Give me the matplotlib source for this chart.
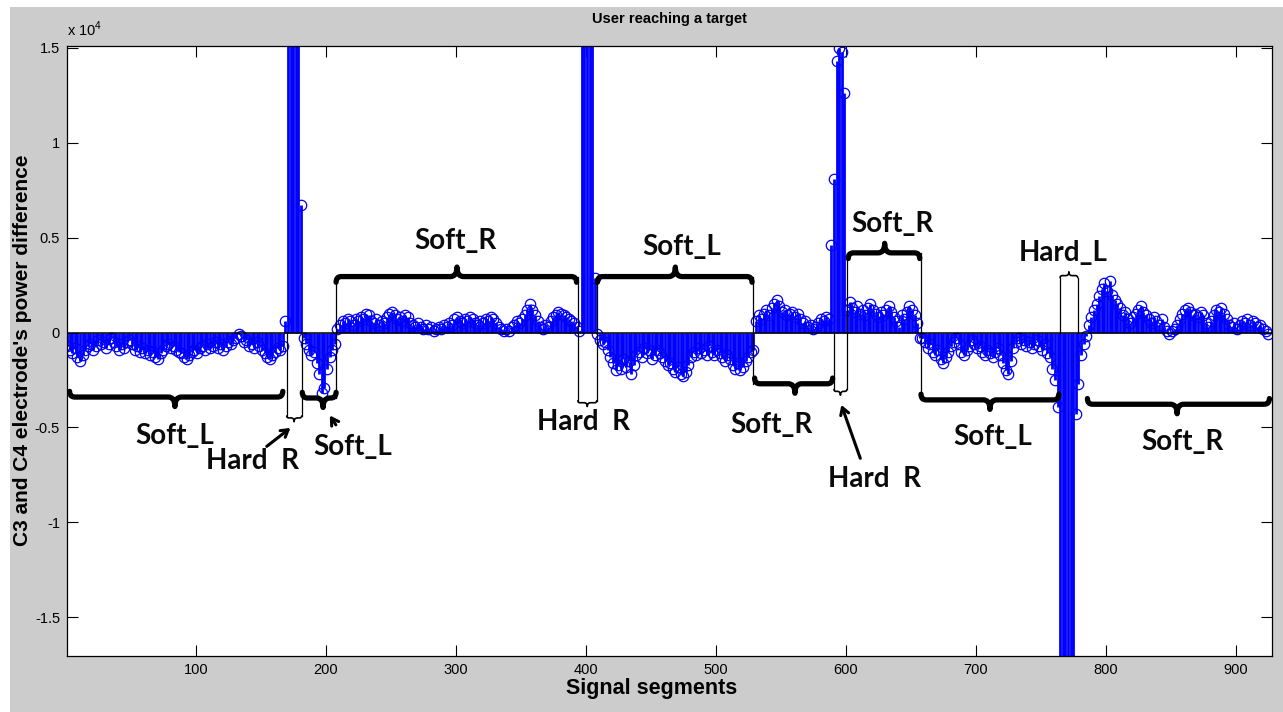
import numpy as np
import matplotlib.pyplot as plt
from matplotlib.path import Path
from matplotlib.patches import PathPatch, Rectangle

# C3-C4 power difference, read every second signal segment (units of 100)
soft_l_a = [-7, -9, -11, -8, -13, -15, -12, -9, -7, -6,
            -9, -7, -4, -6, -5, -8, -6, -3, -5, -7,
            -9, -6, -8, -5, -4, -6, -9, -7, -10, -8,
            -11, -9, -12, -10, -13, -14, -11, -9, -7, -6,
            -8, -7, -9, -10, -11, -13, -14, -12, -10, -9,
            -11, -8, -7, -9, -6, -8, -7, -5, -8, -6,
            -9, -7, -5, -6, -4, -3, -1, -2, -5, -4,
            -7, -6, -8, -5, -7, -9, -11, -13, -14, -12,
            -10, -8, -9, -7, 6]
hard_r_a = [300, 300, 300, 300, 300, 67]
soft_l_b = [-3, -6, -9, -12, -10, -16, -22, -32, -29, -19, -13, -9, -6]
soft_r_a = [2, 4, 6, 5, 7, 6, 4, 7, 6, 8,
            7, 10, 9, 6, 5, 7, 4, 6, 5, 8,
            10, 11, 9, 7, 8, 6, 9, 8, 5, 4,
            3, 5, 3, 2, 4, 2, 3, 1, 2, 3,
            2, 4, 3, 5, 4, 7, 8, 6, 5, 7,
            6, 8, 7, 5, 4, 6, 5, 7, 6, 8,
            7, 5, 3, 2, 1, 2, 1, 3, 4, 6,
            5, 7, 9, 12, 15, 12, 9, 6, 3, 2,
            4, 3, 6, 8, 9, 11, 10, 9, 8, 7,
            6, 5, 3]
hard_r_b = [1, 300, 300, 300, 300, 300, 29]
soft_l_c = [-1, -4, -6, -5, -9, -13, -16, -20, -17, -19,
            -14, -18, -15, -22, -17, -12, -10, -13, -8, -11,
            -9, -14, -12, -9, -11, -13, -15, -17, -16, -19,
            -21, -18, -22, -23, -21, -17, -13, -10, -12, -8,
            -11, -9, -12, -7, -10, -12, -9, -11, -13, -15,
            -12, -14, -17, -19, -16, -20, -18, -15, -13, -10,
            -9]
soft_r_b = [6, 9, 7, 10, 12, 9, 13, 15, 17, 14,
            11, 12, 9, 10, 11, 8, 10, 7, 5, 6,
            3, 4, 2, 3, 5, 7, 6, 8, 7, 46]
hard_r_c = [81, 143, 150, 148, 126]
soft_r_c = [12, 16, 13, 11, 14, 10, 12, 9, 13, 15,
            12, 10, 8, 11, 9, 12, 14, 11, 8, 6,
            3, 9, 7, 11, 14, 12, 9, 5, -3]
soft_l_d = [-3, -5, -8, -6, -10, -12, -9, -14, -16, -13,
            -10, -7, -5, -3, -6, -10, -12, -9, -7, -4,
            -6, -8, -7, -10, -12, -9, -11, -13, -10, -8,
            -12, -16, -20, -22, -15, -8, -5, -3, -6, -4,
            -7, -5, -8, -6, -4, -7, -9, -6, -11, -13,
            -19, -25, -39]
hard_l_a = [-300, -300, -300, -300, -300, -300, -43, -27]
soft_r_d = [-12, -6, -2, 4, 8, 12, 15, 19, 23, 26,
            22, 27, 20, 17, 15, 13, 9, 11, 7, 5,
            8, 10, 12, 14, 11, 9, 7, 5, 8, 6,
            4, 7, 3, 1, -1, 1, 2, 4, 7, 10,
            12, 13, 11, 9, 10, 8, 11, 9, 5, 3,
            6, 9, 12, 11, 13, 10, 7, 4, 3, 5,
            2, 4, 6, 5, 7, 4, 6, 5, 3, 4,
            2, 1, -1]

power = 100 * np.array(soft_l_a + hard_r_a + soft_l_b + soft_r_a + hard_r_b + soft_l_c
                       + soft_r_b + hard_r_c + soft_r_c + soft_l_d + hard_l_a + soft_r_d)
segment = 1 + 2 * np.arange(len(power))

# thick braces: (start, end, level, tip position, direction of tip)
braces = [(3, 167, -3400, 84, -1), (182, 208, -3450, 198, -1),
          (208, 393, 2950, 301, 1), (409, 528, 2950, 469, 1),
          (530, 590, -2700, 561, -1), (602, 657, 4200, 630, 1),
          (658, 764, -3550, 711, -1), (786, 926, -3780, 855, -1)]
# thin boxes around the hard commands: (left, right, end level)
boxes = [(170, 181.5, -4400), (394, 408.5, -3600), (591, 601, -3000), (765, 778.5, 2900)]
# thin connecting lines: (position, from, to)
connectors = [(208, -3450, 2950), (394, 0, 2950), (408.5, 0, 2950),
              (529, -2700, 2950), (601, 0, 4200), (658, -3550, 4200)]
labels = ["Soft_L", "Hard  R", "Soft_L", "Soft_R", "Hard  R", "Soft_L",
          "Soft_R", "Hard  R", "Soft_R", "Hard_L", "Soft_L", "Soft_R"]
label_x = [84, 144, 221, 300, 398, 474, 543, 622, 636, 767, 713, 859]
label_y = [-5460, -6770, -6040, 4800, -4725, 4515, -4880, -7720, 5720, 4200, -5510, -5775]
arrows = [((153, -6090), (174.6, -4935)), ((209, -4990), (202, -4250)),
          ((612, -6770), (596, -3675))]


def brace(ax, x0, x1, y, xm, d, hc=300, ht=500, wc=4, wt=5, lw=3.8):
    verts = [(x0, y - d * hc), (x0, y), (x0 + wc, y),
             (xm - wt, y), (xm, y), (xm, y + d * ht),
             (xm, y), (xm + wt, y),
             (x1 - wc, y), (x1, y), (x1, y - d * hc)]
    codes = [Path.MOVETO, Path.CURVE3, Path.CURVE3, Path.LINETO, Path.CURVE3, Path.CURVE3,
             Path.CURVE3, Path.CURVE3, Path.LINETO, Path.CURVE3, Path.CURVE3]
    ax.add_patch(PathPatch(Path(verts, codes), fill=False, lw=lw, ec='black',
                           capstyle='round', joinstyle='round', zorder=5))


W, H = 1283, 712
fig = plt.figure(figsize=(W / 100, H / 100), dpi=100, facecolor='white')
fig.patches.append(Rectangle((10 / W, 0), 1, 1 - 7 / H, transform=fig.transFigure,
                             facecolor='#cccccc', edgecolor='none', zorder=-10))
ax = fig.add_axes([67 / W, (H - 656) / H, 1205 / W, 610.5 / H])

stems = ax.stem(segment, power, linefmt='-', markerfmt='o', basefmt=' ')
stems.stemlines.set_color('#0000ff')
stems.stemlines.set_linewidth(2.0)
stems.markerline.set_color('#0000ff')
stems.markerline.set_markerfacecolor('none')
stems.markerline.set_markersize(7.5)
stems.markerline.set_markeredgewidth(0.9)
ax.axhline(0, color='black', lw=1.1, zorder=3)

for x0, x1, y, xm, d in braces:
    brace(ax, x0, x1, y, xm, d)
for x0, x1, yb in boxes:
    d = 1 if yb > 0 else -1
    ax.plot([x0, x0], [0, yb], color='black', lw=0.9, zorder=5)
    ax.plot([x1, x1], [0, yb], color='black', lw=0.9, zorder=5)
    brace(ax, x0, x1, yb + d * 100, (x0 + x1) / 2, d, hc=100, ht=200, wc=1.5, wt=2.5, lw=1.2)
for xc, y0, y1 in connectors:
    ax.plot([xc, xc], [y0, y1], color='black', lw=0.9, zorder=5)
for text, lx, ly in zip(labels, label_x, label_y):
    ax.text(lx, ly, text, ha='center', va='center', fontsize=20, fontweight='bold',
            family='Lato', color='#0a0a0a', zorder=6)
for tail, head in arrows:
    ax.annotate('', xy=head, xytext=tail,
                arrowprops=dict(arrowstyle='->, head_length=0.5, head_width=0.3',
                                lw=2.2, color='black'), zorder=6)

ax.set_xlim(1, 928)
ax.set_ylim(-17050, 15130)
ax.set_xticks(range(100, 901, 100))
ax.set_yticks(np.arange(-15000, 15001, 5000))
ax.yaxis.set_major_formatter(plt.FuncFormatter(lambda v, p: '%g' % (v / 1e4)))
ax.tick_params(direction='in', length=8, width=0.8, top=True, right=True,
               labelsize=10.5, pad=5)
for lab in ax.get_xticklabels() + ax.get_yticklabels():
    lab.set_family('Liberation Sans')
for sp in ax.spines.values():
    sp.set_linewidth(0.9)

ax.text(0, 1.015, r'x 10$^{\mathregular{4}}$', transform=ax.transAxes, ha='left',
        va='baseline', fontsize=10.5, family='Liberation Sans')
ax.set_title('User reaching a target', fontsize=10.5, fontweight='bold',
             family='Liberation Sans', pad=16)
ax.set_xlabel('Signal segments', fontsize=15.5, fontweight='bold', family='Liberation Sans')
ax.xaxis.set_label_coords(0.485, -0.036)
ax.set_ylabel("C3 and C4 electrode's power difference", fontsize=15, fontweight='bold',
              family='Liberation Sans')
ax.yaxis.set_label_coords(-0.029, 0.5)

fig.savefig('out.png', dpi=100)
